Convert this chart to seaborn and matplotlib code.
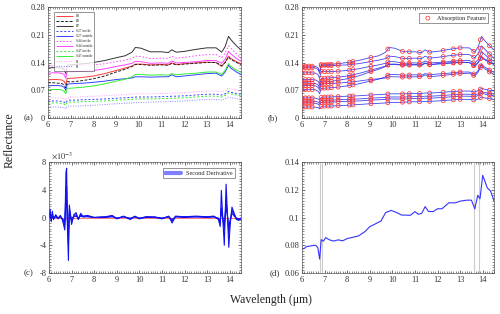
import numpy as np
import pandas as pd
import matplotlib
matplotlib.use("Agg")
import matplotlib.pyplot as plt
import seaborn as sns
from matplotlib.ticker import AutoMinorLocator, FuncFormatter, MultipleLocator
from matplotlib.lines import Line2D

sns.set_theme(style="ticks")
plt.rcParams['font.family'] = ['Liberation Serif', 'DejaVu Serif']
plt.rcParams['mathtext.fontset'] = 'stix'

# ---------------- data ----------------
wl = [6.0, 6.2, 6.4, 6.6, 6.72, 6.78, 6.85, 6.95, 7.2, 7.6, 8.0, 8.5, 9.0, 9.4, 9.7, 9.85,
      10.1, 10.5, 11.0, 11.3, 11.45, 11.65, 12.0, 12.5, 13.0, 13.4, 13.65, 13.8, 13.95, 14.05,
      14.3, 14.5]

B1 = [.096, .097, .097, .096, .092, .084, .100, .100, .101, .103, .106, .112, .120, .126, .131, .136,
      .136, .134, .135, .134, .139, .135, .137, .139, .141, .140, .130, .140, .156, .150, .142, .137]
B3 = [.089, .089, .088, .087, .083, .076, .092, .091, .092, .095, .099, .106, .116, .123, .130, .135,
      .135, .133, .134, .133, .138, .134, .136, .138, .140, .140, .132, .140, .154, .148, .140, .135]
B7 = [.126, .127, .127, .126, .122, .112, .132, .134, .135, .137, .140, .145, .152, .157, .166, .178,
      .176, .167, .167, .165, .172, .166, .168, .173, .177, .177, .166, .180, .206, .198, .182, .172]
S27_in = [.042, .043, .043, .042, .040, .037, .044, .045, .045, .046, .047, .048, .050, .051, .052, .053,
          .053, .053, .054, .054, .055, .055, .056, .058, .060, .060, .058, .061, .067, .065, .062, .060]
S27_out = [.081, .082, .082, .081, .077, .070, .085, .086, .087, .088, .090, .093, .097, .099, .101, .104,
           .104, .103, .104, .104, .109, .104, .106, .109, .112, .113, .106, .116, .133, .126, .116, .110]
S44_in = [.130, .131, .131, .130, .126, .116, .135, .133, .132, .133, .134, .137, .142, .146, .150, .156,
          .155, .150, .151, .150, .156, .151, .153, .157, .160, .160, .152, .163, .182, .176, .162, .150]
S44_out = [.113, .114, .114, .113, .109, .100, .118, .117, .117, .118, .120, .124, .130, .134, .138, .143,
           .142, .138, .139, .138, .144, .139, .140, .142, .145, .145, .138, .148, .168, .162, .150, .143]
S47_in = [.037, .038, .038, .037, .035, .032, .039, .040, .040, .041, .042, .043, .045, .046, .047, .048,
          .048, .048, .049, .049, .050, .050, .051, .053, .055, .055, .053, .057, .063, .061, .058, .056]
S47_out = [.071, .072, .072, .071, .067, .061, .075, .075, .076, .078, .081, .086, .093, .098, .104, .110,
           .110, .108, .109, .108, .112, .109, .111, .113, .116, .116, .110, .120, .137, .130, .121, .115]
P1_a = [.050, .051, .051, .050, .048, .045, .052, .053, .053, .054, .055, .056, .058, .059, .060, .061,
        .061, .061, .062, .062, .063, .063, .064, .066, .068, .068, .066, .069, .075, .073, .070, .068]
P1_b = [.027, .028, .028, .027, .026, .023, .029, .030, .030, .031, .032, .034, .036, .037, .038, .039,
        .039, .040, .041, .041, .042, .042, .043, .045, .047, .047, .045, .048, .053, .051, .049, .047]

labels = ["B1", "B3", "B7", "S27 inside", "S27 outside", "S44 inside", "S44 outside",
          "S47 inside", "S47 outside", "P1", "P1"]
series = [B1, B3, B7, S27_in, S27_out, S44_in, S44_out, S47_in, S47_out, P1_a, P1_b]
colors = ["#ff3b3b", "#222222", "#333333", "#3344ff", "#3344ff", "#ff44ff", "#ff44ff",
          "#33ee33", "#33ee33", "#ff99ff", "#8888ff"]
styles = [(0, ()), (0, (3, 1.5)), (0, ()), (0, (2, 2)), (0, ()), (0, (1.5, 2)), (0, ()),
          (0, (2, 2)), (0, ()), (0, (1, 1.5)), (0, (1, 1.5))]

# absorption feature wavelengths (panel b)
feat_wl = [6.0, 6.15, 6.3, 6.45, 6.85, 7.0, 7.15, 7.3, 7.6, 8.1, 8.25, 9.05, 9.8, 10.45,
           10.75, 11.2, 11.65, 12.25, 12.7, 13.0, 13.6, 13.9, 14.3]

# second derivative (x 1e-3), panel c
d_wl = [6.0, 6.05, 6.1, 6.15, 6.2, 6.3, 6.4, 6.5, 6.6, 6.7, 6.75, 6.78, 6.82, 6.86, 6.9, 6.95,
        7.0, 7.1, 7.2, 7.3, 7.4, 7.5, 7.7, 8.0, 8.5, 8.8, 9.0, 9.3, 9.6, 9.8, 10.0, 10.3, 10.7,
        11.0, 11.3, 11.45, 11.6, 12.0, 12.5, 13.0, 13.3, 13.5, 13.58, 13.63, 13.7, 13.76, 13.84,
        13.9, 13.96, 14.02, 14.1, 14.2, 14.3, 14.4, 14.5]
D1 = [0.2, 1.2, -0.6, 0.9, -0.3, 0.4, -0.2, 0.3, -0.4, -1.8, 6.5, 7.1, -2.0, -6.2, 1.8, 0.5,
      -1.0, 0.4, 0.7, -0.3, 0.6, 0.2, 0.3, 0.0, 0.1, 0.3, -0.2, 0.2, -0.3, 0.2, -0.2, 0.1, 0.1,
      -0.2, 0.2, -0.8, 0.2, 0.1, 0.2, 0.1, 0.2, -0.3, -1.3, 3.9, -0.5, -4.0, 4.8, 0.5, -4.3,
      -1.0, 1.5, 0.6, -0.3, -0.4, -0.2]
D2 = [0.1, 0.7, -0.4, 0.5, -0.2, 0.3, -0.1, 0.2, -0.3, -1.1, 4.0, 4.5, -1.2, -3.8, 1.1, 0.3,
      -0.6, 0.3, 0.4, -0.2, 0.4, 0.1, 0.2, 0.0, 0.1, 0.2, -0.1, 0.1, -0.2, 0.1, -0.1, 0.1, 0.0,
      -0.1, 0.1, -0.5, 0.1, 0.1, 0.1, 0.1, 0.1, -0.2, -0.8, 1.4, -0.3, -1.7, 2.5, 0.3, -2.4,
      -0.6, 1.0, 0.4, -0.2, -0.3, -0.1]
D3 = [0.0, 0.4, -0.2, 0.3, -0.1, 0.1, -0.1, 0.1, -0.2, -0.6, 2.2, 2.5, -0.7, -2.0, 0.6, 0.2,
      -0.3, 0.1, 0.2, -0.1, 0.2, 0.1, 0.1, 0.0, 0.0, 0.1, -0.1, 0.1, -0.1, 0.1, -0.1, 0.0, 0.0,
      -0.1, 0.1, -0.3, 0.1, 0.0, 0.1, 0.0, 0.1, -0.1, -0.5, 0.9, -0.2, -1.0, 1.5, 0.2, -1.4,
      -0.4, 0.6, 0.2, -0.1, -0.2, -0.1]

# mean spectrum, panel d
m_wl = [6.0, 6.1, 6.2, 6.4, 6.6, 6.7, 6.78, 6.85, 6.95, 7.05, 7.2, 7.4, 7.6, 7.8, 8.0, 8.5, 8.8,
        9.0, 9.2, 9.5, 9.7, 9.95, 10.2, 10.4, 10.8, 11.0, 11.15, 11.3, 11.45, 11.6, 11.8, 12.0,
        12.2, 12.5, 12.8, 13.0, 13.3, 13.5, 13.65, 13.78, 13.88, 14.0, 14.1, 14.2, 14.35, 14.5]
m_ref = [0.0772, 0.0777, 0.0790, 0.0796, 0.0800, 0.0784, 0.0700, 0.0840, 0.0830, 0.0855, 0.0840,
         0.0830, 0.0839, 0.0832, 0.0848, 0.0867, 0.0900, 0.0934, 0.0950, 0.0975, 0.1035, 0.1051,
         0.1035, 0.1018, 0.1016, 0.1042, 0.1023, 0.1030, 0.1078, 0.1044, 0.1042, 0.1063, 0.1063,
         0.1106, 0.1106, 0.1118, 0.1125, 0.1125, 0.1063, 0.1160, 0.1135, 0.1304, 0.1260, 0.1214,
         0.1190, 0.1120]
band_lines = [6.78, 6.88, 13.62, 13.82]

# ---------------- figure ----------------
W, H = 500, 314
fig = plt.figure(figsize=(W / 100, H / 100), dpi=100)


def ax_px(l, t, r, b):
    return fig.add_axes([l / W, 1 - b / H, (r - l) / W, (b - t) / H])


def style_ax(ax, ymaj, fmt="%g"):
    ax.set_xlim(6, 14.5)
    ax.xaxis.set_major_locator(MultipleLocator(1))
    ax.yaxis.set_major_locator(MultipleLocator(ymaj))
    ax.xaxis.set_minor_locator(AutoMinorLocator(10))
    ax.yaxis.set_minor_locator(AutoMinorLocator(10))
    ax.yaxis.set_major_formatter(FuncFormatter(lambda v, p: fmt % round(v, 6)))
    ax.tick_params(which="both", direction="in", top=True, right=True, labelsize=6,
                   pad=2, colors="#333333")
    ax.tick_params(which="major", length=2.2, width=0.5)
    ax.tick_params(which="minor", length=1.2, width=0.4)
    for s in ax.spines.values():
        s.set_linewidth(0.5)
        s.set_color("#555555")
    ax.set_xlabel("")
    ax.set_ylabel("")


# (a)
axa = ax_px(48, 7, 241, 118)
for lab, ys, c, ls in zip(labels, series, colors, styles):
    sns.lineplot(x=wl, y=ys, ax=axa, color=c, linestyle=ls, linewidth=0.7, label=lab)
axa.set_ylim(0, 0.28)
style_ax(axa, 0.07)
leg = axa.legend(loc="upper left", fontsize=2.5, frameon=True, fancybox=False,
                 edgecolor="#444444", handlelength=5, labelspacing=0.3,
                 borderpad=0.6, bbox_to_anchor=(0.02, 0.97))
leg.get_frame().set_linewidth(0.5)

# (b)
axb = ax_px(302, 7, 494, 118)
fx, fy = [], []
for ys in series:
    sns.lineplot(x=wl, y=ys, ax=axb, color="#2222ee", linewidth=0.6, alpha=0.85)
    fx.extend(feat_wl)
    fy.extend(np.interp(feat_wl, wl, ys))
sns.scatterplot(x=fx, y=fy, ax=axb, marker="o", s=8, facecolors="none", edgecolor="#ff3333",
                linewidth=0.55, label="Absorption Feature", zorder=5)
axb.set_ylim(0, 0.28)
style_ax(axb, 0.07)
legb = axb.legend(loc="upper right", fontsize=4.5, frameon=True, fancybox=False,
                  edgecolor="#444444", handletextpad=0.4, borderpad=0.4,
                  bbox_to_anchor=(0.985, 0.975))
legb.get_frame().set_linewidth(0.5)

# (c)
axc = ax_px(49, 162, 241, 273)
axc.axhline(0, color="#ff6666", linewidth=0.6, zorder=1)
for ds in (D1, D2, D3):
    sns.lineplot(x=d_wl, y=ds, ax=axc, color="#1111ee", linewidth=0.8)
axc.set_ylim(-8, 8)
style_ax(axc, 4)
hc = [Line2D([0], [0], color="#8080ff", linewidth=3)]
legc = axc.legend(hc, ["Second Derivative"], loc="upper right", fontsize=4.5, frameon=True,
                  fancybox=False, edgecolor="#444444", handlelength=2.5, borderpad=0.4,
                  bbox_to_anchor=(0.985, 0.975))
legc.get_frame().set_linewidth(0.5)
fig.text(51 / W, 1 - 156 / H, r"$\times10^{-3}$", fontsize=6, ha="left", va="center",
         color="#333333")

# (d)
axd = ax_px(302, 162, 494, 273)
for b in band_lines:
    axd.axvline(b, color="#cccccc", linewidth=0.8, zorder=1)
sns.lineplot(x=m_wl, y=m_ref, ax=axd, color="#3333ff", linewidth=0.8)
axd.set_ylim(0.06, 0.14)
style_ax(axd, 0.02)

# labels
fig.text(29 / W, 1 - 118 / H, "(a)", fontsize=6.5, ha="center", va="center", color="#333333")
fig.text(273 / W, 1 - 118 / H, "(b)", fontsize=6.5, ha="center", va="center", color="#333333")
fig.text(29 / W, 1 - 273 / H, "(c)", fontsize=6.5, ha="center", va="center", color="#333333")
fig.text(275 / W, 1 - 273 / H, "(d)", fontsize=6.5, ha="center", va="center", color="#333333")
fig.text(10 / W, 1 - 140 / H, "Reflectance", fontsize=8.5, rotation=90, ha="center",
         va="center", color="#222222")
fig.text(271 / W, 1 - 300 / H, "Wavelength (μm)", fontsize=8.5, ha="center", va="center",
         color="#222222")

fig.savefig("out.png", dpi=100)
